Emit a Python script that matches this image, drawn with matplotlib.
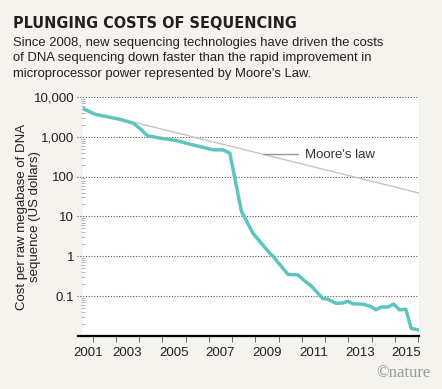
import matplotlib
matplotlib.use('Agg')
import matplotlib.pyplot as plt
from matplotlib.ticker import FixedLocator, NullFormatter

# sequencing cost per raw megabase (US$)
years = [2001.57, 2002.1, 2003.17, 2003.75, 2004.1, 2004.35, 2004.9, 2005.6,
         2006.04, 2006.47, 2007.18, 2007.6, 2007.9, 2008.1, 2008.4, 2008.9,
         2009.6, 2009.76, 2010.4, 2010.84, 2011.12, 2011.4, 2011.9, 2012.1,
         2012.47, 2012.75, 2012.98, 2013.2, 2013.6, 2013.97, 2014.19, 2014.4,
         2014.7, 2014.95, 2015.2, 2015.47, 2015.7, 2016.02]
cost = [5200, 3700, 2760, 2200, 1500, 1070, 930, 810,
        690, 595, 473, 473, 390, 102, 13.5, 3.76,
        1.23, 1.0, 0.35, 0.34, 0.24, 0.18, 0.087, 0.084,
        0.066, 0.067, 0.074, 0.064, 0.063, 0.055, 0.045, 0.053,
        0.053, 0.063, 0.045, 0.047, 0.0155, 0.014]

moore_years = [2003.82, 2016.02]
moore_cost = [2300, 39]

ytick_vals = [10000, 1000, 100, 10, 1, 0.1]
ytick_labels = ['10,000', '1,000', '100', '10', '1', '0.1']
xtick_years = list(range(2002, 2017))
xlabel_pos = [2001.8, 2003.5, 2005.5, 2007.5, 2009.5, 2011.5, 2013.5, 2015.5]
xlabel_text = ['2001', '2003', '2005', '2007', '2009', '2011', '2013', '2015']

bg = '#f4f3ee'
teal = '#5cc6be'
ink = '#231f20'

plt.rcParams['font.family'] = ['Liberation Sans', 'DejaVu Sans']

fig = plt.figure(figsize=(4.42, 3.89), dpi=100, facecolor=bg)
ax = fig.add_axes([0.187, 0.1365, 0.760, 0.614])
ax.set_facecolor('white')

ax.set_yscale('log')
ax.set_xlim(2001.57, 2016.02)
ax.set_ylim(0.01, 10000)

# dotted decade gridlines, running a bit past the left edge
for v in ytick_vals:
    ax.axhline(v, xmin=-0.016, xmax=0.995, color='#555555', lw=0.8,
               ls=(0, (1, 1.5)), clip_on=False, zorder=1)

ax.plot(moore_years, moore_cost, color='#c4c4c4', lw=1, zorder=2)
ax.plot(years, cost, color=teal, lw=2.5, solid_joinstyle='round', zorder=3)

ax.annotate("Moore's law", xy=(2009.36, 360), xytext=(2011.15, 360),
            va='center', ha='left', fontsize=9.5, color='#333333',
            arrowprops=dict(arrowstyle='-', color='#999999', lw=1,
                            shrinkA=3, shrinkB=0))

for s in ['top', 'right', 'left']:
    ax.spines[s].set_visible(False)
ax.spines['bottom'].set_linewidth(1.6)
ax.spines['bottom'].set_color('black')
ax.spines['bottom'].set_bounds(2001.35, 2016.02)

ax.yaxis.set_major_locator(FixedLocator(ytick_vals))
ax.set_yticklabels(ytick_labels)
ax.tick_params(axis='y', which='major', length=0, pad=6, labelsize=9.5,
               labelcolor=ink)
ax.tick_params(axis='y', which='minor', length=2.5, width=0.6,
               color='#aaaaaa', direction='inout')
ax.yaxis.set_minor_formatter(NullFormatter())

ax.xaxis.set_major_locator(FixedLocator(xtick_years))
ax.xaxis.set_major_formatter(NullFormatter())
ax.xaxis.set_minor_locator(FixedLocator(xlabel_pos))
ax.set_xticklabels(xlabel_text, minor=True)
ax.tick_params(axis='x', which='major', length=4, width=0.6, color='#555555')
ax.tick_params(axis='x', which='minor', length=0, pad=8, labelsize=9.5,
               labelcolor=ink)

ax.set_ylabel('Cost per raw megabase of DNA\nsequence (US dollars)',
              fontsize=9.5, color=ink, linespacing=1.1)
ax.yaxis.set_label_coords(-0.124, 0.5)

fig.text(0.029, 0.928, 'PLUNGING COSTS OF SEQUENCING', ha='left',
         va='baseline', fontsize=11.6, fontweight='bold',
         fontstretch='condensed', color=ink, family=['DejaVu Sans'])
fig.text(0.029, 0.904,
         'Since 2008, new sequencing technologies have driven the costs\n'
         'of DNA sequencing down faster than the rapid improvement in\n'
         "microprocessor power represented by Moore's Law.",
         ha='left', va='top', fontsize=9.4, color=ink, linespacing=1.35)
fig.text(0.975, 0.04, '\u00a9nature', ha='right', va='center', fontsize=12,
         color='#9a9a9a', family=['Liberation Serif', 'DejaVu Serif'])

fig.savefig('out.png', dpi=100, facecolor=bg)
